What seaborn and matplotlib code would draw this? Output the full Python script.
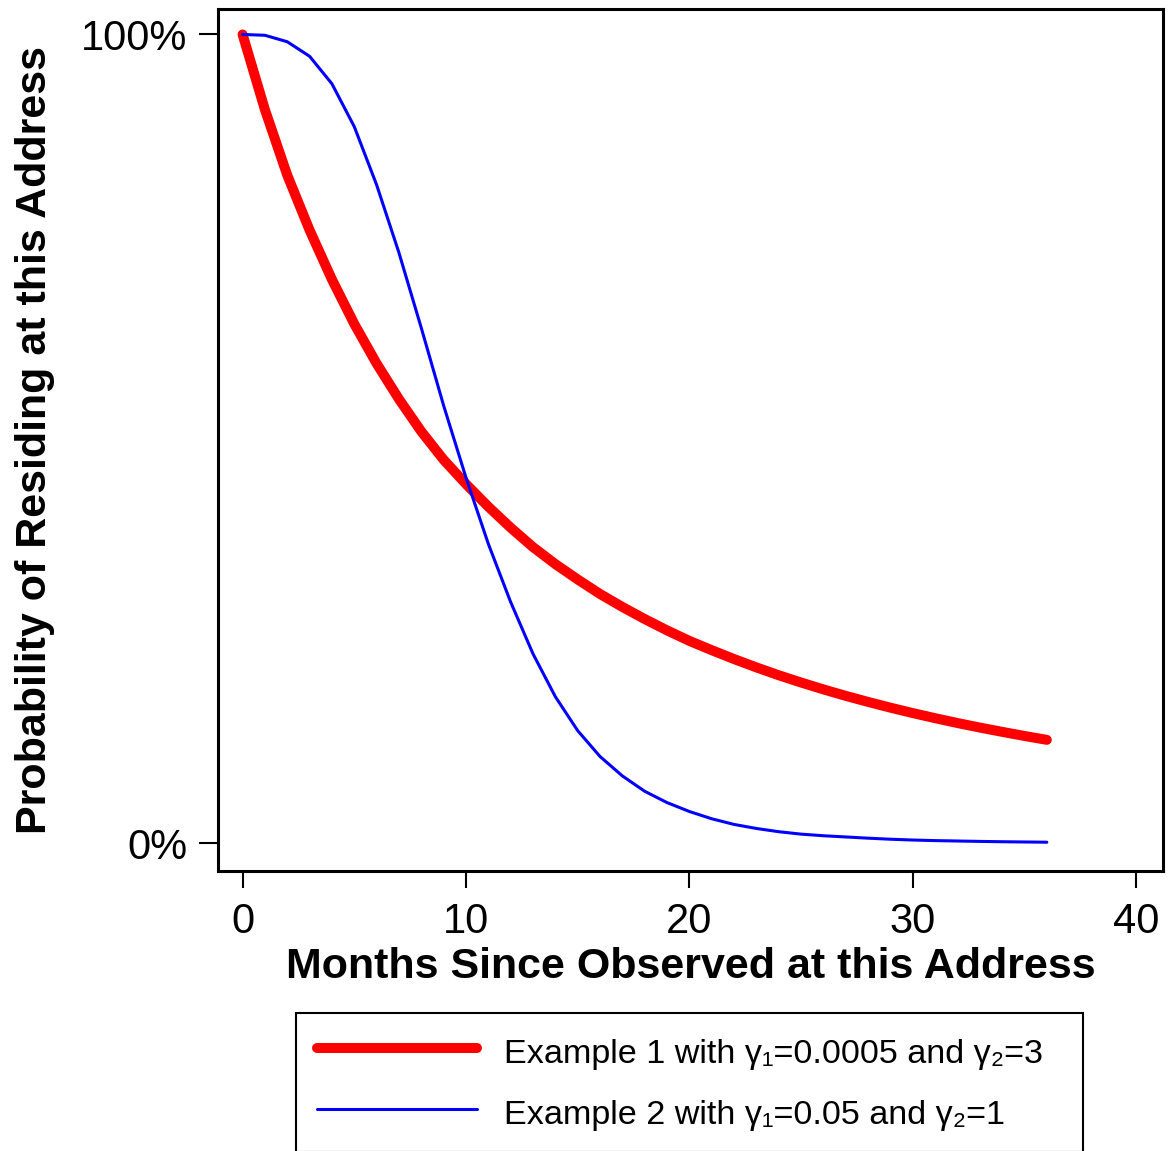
import pandas as pd
import matplotlib.pyplot as plt
import seaborn as sns

# months since observed
months = list(range(37))

# Example 1 (thick red)
example1 = [1.000, 0.907, 0.826, 0.758, 0.697, 0.642, 0.593, 0.549, 0.509, 0.474,
            0.444, 0.416, 0.390, 0.366, 0.345, 0.326, 0.308, 0.292, 0.277, 0.263,
            0.250, 0.2385, 0.2275, 0.2172, 0.2075, 0.1985, 0.1900, 0.1820, 0.1745, 0.1674,
            0.1607, 0.1544, 0.1484, 0.1428, 0.1375, 0.1324, 0.1276]

# Example 2 (thin blue)
example2 = [1.000, 0.999, 0.991, 0.973, 0.939, 0.886, 0.814, 0.730, 0.637, 0.541,
            0.452, 0.370, 0.298, 0.234, 0.181, 0.139, 0.107, 0.083, 0.064, 0.050,
            0.039, 0.030, 0.023, 0.018, 0.014, 0.011, 0.009, 0.0075, 0.006, 0.0047,
            0.0037, 0.003, 0.0025, 0.002, 0.0016, 0.0013, 0.001]

labels = ["Example 1 with γ\u2081=0.0005 and γ\u2082=3",
          "Example 2 with γ\u2081=0.05 and γ\u2082=1"]
ytick_vals = [0, 1]
ytick_labels = ["0%", "100%"]
xtick_vals = [0, 10, 20, 30, 40]

df1 = pd.DataFrame({"month": months, "prob": example1})
df2 = pd.DataFrame({"month": months, "prob": example2})

sns.set_style("ticks")
plt.rcParams['font.family'] = ['Liberation Sans', 'DejaVu Sans']
plt.rcParams['text.color'] = 'black'
plt.rcParams['axes.labelcolor'] = 'black'

fig = plt.figure(figsize=(11.71, 11.51), dpi=100)
ax = fig.add_axes([218 / 1171, 1 - 871 / 1151, 945 / 1171, 862 / 1151])

sns.lineplot(data=df1, x="month", y="prob", color="#ff0000", linewidth=7.2,
             solid_capstyle="round", label=labels[0], ax=ax)
sns.lineplot(data=df2, x="month", y="prob", color="#0000ff", linewidth=2.2,
             label=labels[1], ax=ax)

ax.set_xlim(-1.1, 41.2)
ax.set_ylim(-0.0346, 1.0315)
ax.set_xticks(xtick_vals)
ax.set_yticks(ytick_vals)
ax.set_yticklabels(ytick_labels)
ax.tick_params(axis="x", length=12, width=1.5, pad=10, labelsize=30, colors="black")
ax.tick_params(axis="y", length=14, width=1.5, pad=8, labelsize=30, colors="black")

for s in ax.spines.values():
    s.set_visible(True)
    s.set_linewidth(2.2)
    s.set_color("black")

ax.set_xlabel("Months Since Observed at this Address", fontsize=31,
              fontweight="bold", color="black")
ax.set_ylabel("Probability of Residing at this Address", fontsize=31,
              fontweight="bold", color="black")
ax.xaxis.set_label_coords(0.5, -0.088)
ax.yaxis.set_label_coords(-0.173, 0.5)

ax.legend_.remove()
handles, lbls = ax.get_legend_handles_labels()
leg = fig.legend(handles, lbls, loc="upper left",
                 bbox_to_anchor=(296 / 1171, 0.0, (1083 - 296) / 1171, 1 - 1013 / 1151),
                 bbox_transform=fig.transFigure, mode="expand", borderaxespad=0,
                 fontsize=24.6, handlelength=4.7, handleheight=1.25, handletextpad=0.8,
                 labelspacing=0.72, borderpad=0.6, fancybox=False, frameon=True,
                 framealpha=1)
leg.get_frame().set_edgecolor("black")
leg.get_frame().set_linewidth(1.5)
for t in leg.get_texts():
    t.set_color("black")

plt.savefig("out.png", dpi=100)
